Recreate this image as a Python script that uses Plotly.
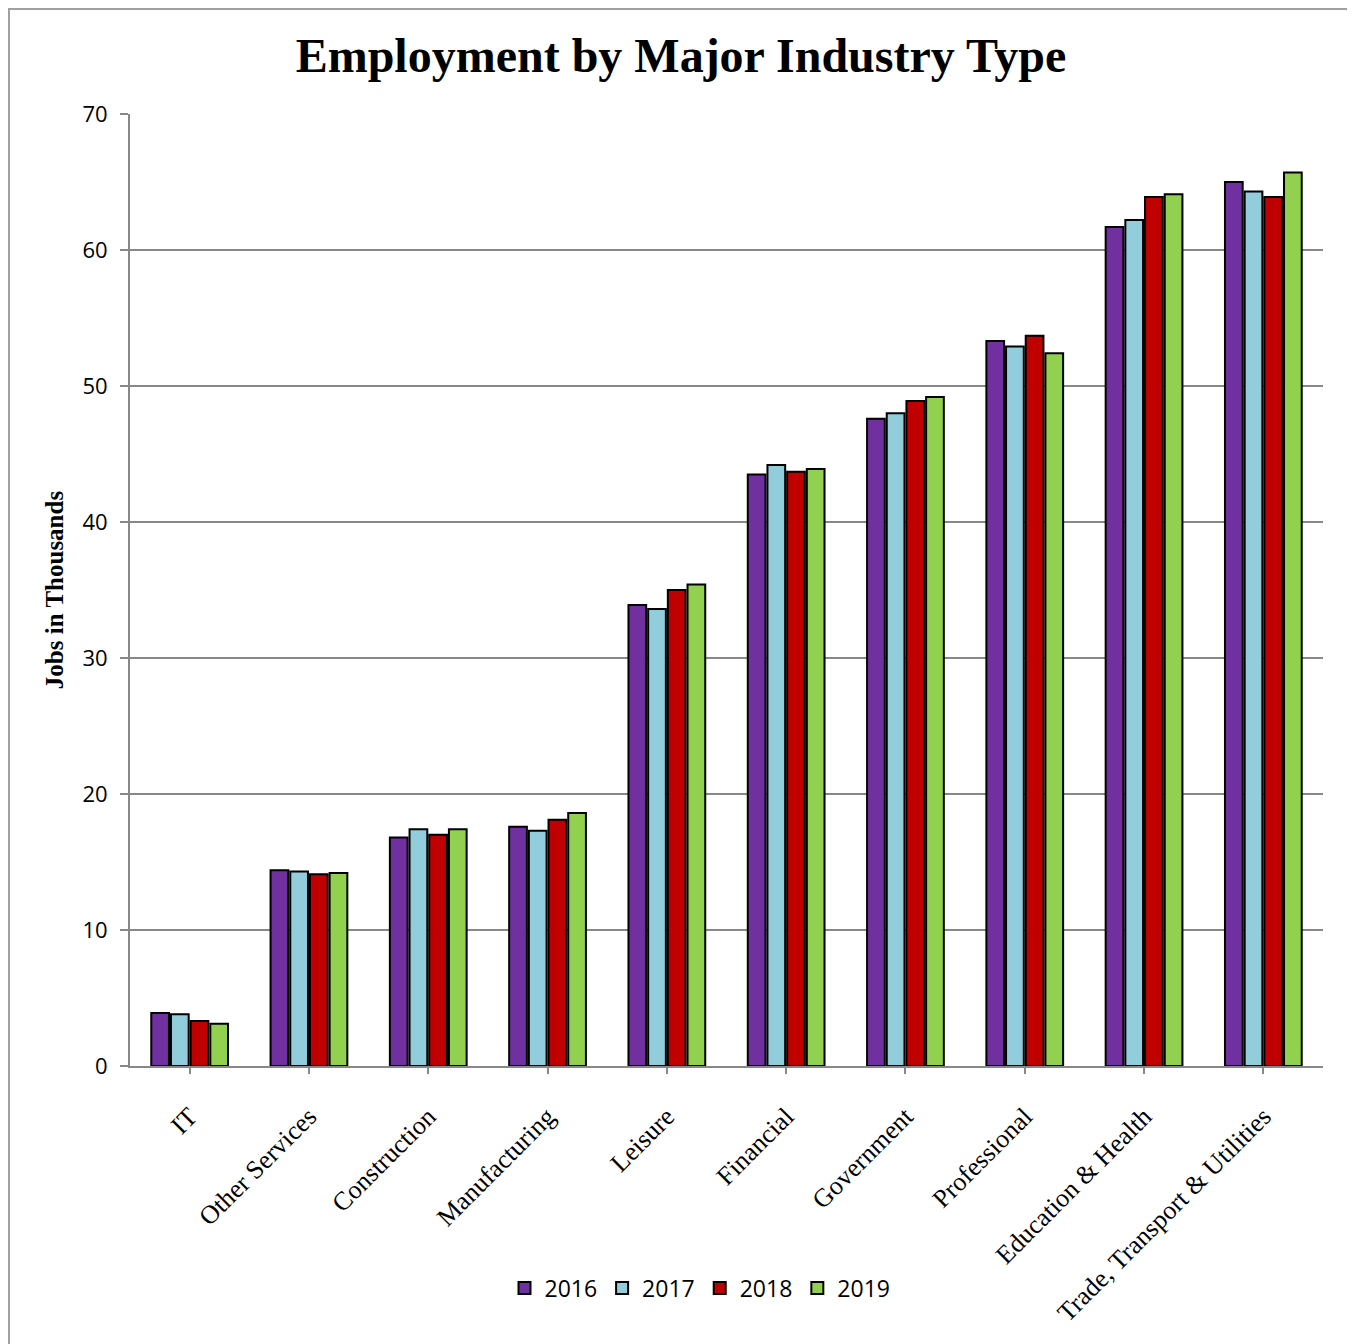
import plotly.graph_objects as go

categories = ["IT", "Other Services", "Construction", "Manufacturing", "Leisure",
              "Financial", "Government", "Professional", "Education & Health",
              "Trade, Transport & Utilities"]
years = ["2016", "2017", "2018", "2019"]
v2016 = [3.9, 14.4, 16.8, 17.6, 33.9, 43.5, 47.6, 53.3, 61.7, 65.0]
v2017 = [3.8, 14.3, 17.4, 17.3, 33.6, 44.2, 48.0, 52.9, 62.2, 64.3]
v2018 = [3.3, 14.1, 17.0, 18.1, 35.0, 43.7, 48.9, 53.7, 63.9, 63.9]
v2019 = [3.1, 14.2, 17.4, 18.6, 35.4, 43.9, 49.2, 52.4, 64.1, 65.7]
series = [v2016, v2017, v2018, v2019]
colors = ["#7030A0", "#92CDDC", "#C00000", "#92D050"]
yticks = [0, 10, 20, 30, 40, 50, 60, 70]

OFF = 8  # page body margin
W, H = 1355 - OFF, 1344 - OFF
L, T = 130 - OFF, 114 - OFF
R = W - (1323 - OFF)
B = H - (1066 - OFF)
pw, ph = W - L - R, H - T - B

fig = go.Figure()
for name, vals, c in zip(years, series, colors):
    fig.add_trace(go.Bar(x=categories, y=vals, name=name, marker_color=c,
                         marker_line_color="black", marker_line_width=2))

def fx(p):  # figure pixel -> paper x
    return (p - L) / pw

def fy(p):  # figure pixel -> paper y
    return (H - B - p) / ph

fig.update_layout(
    width=W, height=H,
    margin=dict(l=L, r=R, t=T, b=B, autoexpand=False),
    paper_bgcolor="white", plot_bgcolor="white",
    barmode="group", bargap=0.34, bargroupgap=0.1,
    title=dict(text="<b>Employment by Major Industry Type</b>",
               font=dict(family="Liberation Serif", size=48, color="black"),
               x=(681 - OFF) / W, xanchor="center", xref="container",
               y=1 - (55 - OFF) / H, yanchor="middle", yref="container"),
    xaxis=dict(tickangle=-45, ticks="outside", ticklen=6, tickcolor="#888888",
               tickwidth=1.5, automargin=False, ticklabelstandoff=17,
               tickfont=dict(family="Liberation Serif", size=26, color="black"),
               showline=True, linecolor="#888888", linewidth=2, showgrid=False),
    yaxis=dict(range=[0, 70], tickvals=yticks, ticks="outside", ticklen=8,
               tickcolor="#888888", tickwidth=1.5, automargin=False,
               ticklabelstandoff=8,
               tickfont=dict(family="Open Sans", size=22, color="black"),
               showline=True, linecolor="#888888", linewidth=2,
               showgrid=True, gridcolor="#888888", gridwidth=1.5, zeroline=False,
               title=dict(text="<b>Jobs in Thousands</b>",
                          font=dict(family="Liberation Serif", size=25, color="black"),
                          standoff=12)),
    legend=dict(orientation="h", x=(700 - OFF) / W, xref="container", xanchor="center",
                y=fy(1288 - OFF), yanchor="middle",
                font=dict(family="Open Sans", size=23, color="black"),
                itemwidth=30, traceorder="normal"),
    shapes=[dict(type="rect", xref="paper", yref="paper",
                 x0=fx(1), x1=fx(1343), y0=fy(H + 5), y1=fy(1),
                 line=dict(color="#A0A0A0", width=2), fillcolor="rgba(0,0,0,0)",
                 layer="below")],
)

fig.write_html("out.html")
